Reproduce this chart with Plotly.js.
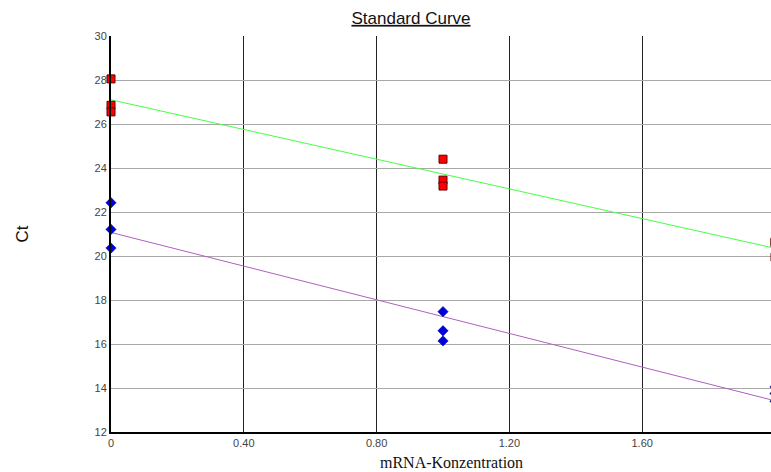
<!DOCTYPE html>
<html>
<head>
<meta charset="utf-8">
<script src="https://cdn.plot.ly/plotly-3.0.1.min.js"></script>
<style>
html,body{margin:0;padding:0;overflow:hidden;background:#fff;}
#chart{width:795px;height:472px;}
</style>
</head>
<body>
<div id="chart"></div>
<script>
// Data
const redX = [0, 0, 0, 1, 1, 1, 2, 2, 2];
const redY = [28.05, 26.85, 26.55, 24.4, 23.45, 23.18, 20.65, 20.6, 19.95];
const blueX = [0, 0, 0, 1, 1, 1, 2, 2, 2];
const blueY = [22.42, 21.21, 20.36, 17.47, 16.6, 16.14, 14.05, 13.75, 13.4];
const fitX = [0, 2];
const greenFitY = [27.1, 20.35];
const purpleFitY = [21.07, 13.42];
const xTickVals = [0, 0.4, 0.8, 1.2, 1.6];
const xTickText = ["0", "0.40", "0.80", "1.20", "1.60"];
const yTickVals = [12, 14, 16, 18, 20, 22, 24, 26, 28, 30];

const traces = [
  {x: fitX, y: greenFitY, mode: 'lines', line: {color: '#44ff44', width: 1}, hoverinfo: 'skip'},
  {x: fitX, y: purpleFitY, mode: 'lines', line: {color: '#b060c0', width: 1}, hoverinfo: 'skip'},
  {x: redX, y: redY, mode: 'markers', cliponaxis: false,
   marker: {symbol: 'square', size: 8, color: '#ff0000', line: {color: '#600000', width: 1}}},
  {x: blueX, y: blueY, mode: 'markers', cliponaxis: false,
   marker: {symbol: 'diamond', size: 8, color: '#0000dd', line: {color: '#000088', width: 0.5}}}
];

const layout = {
  width: 795, height: 472,
  margin: {l: 111, r: 20, t: 36, b: 40},
  paper_bgcolor: '#ffffff', plot_bgcolor: '#ffffff',
  showlegend: false,
  font: {family: 'Liberation Sans, Arial, sans-serif', size: 11, color: '#333'},
  title: {text: '<u>Standard Curve</u>', x: 411 / 795, xref: 'container', xanchor: 'center',
          y: 0.962, yref: 'container', yanchor: 'middle',
          font: {family: 'Liberation Sans, Arial, sans-serif', size: 17, color: '#111'}},
  xaxis: {
    range: [0, 2], tickvals: xTickVals, ticktext: xTickText,
    showgrid: true, gridcolor: '#222', gridwidth: 1,
    zeroline: false, showline: true, linecolor: '#000', linewidth: 2,
    ticks: '', tickfont: {size: 11, color: '#444'},
    automargin: false, fixedrange: true
  },
  yaxis: {
    range: [12, 30], tickvals: yTickVals,
    showgrid: true, gridcolor: '#a8a8a8', gridwidth: 1,
    zeroline: false, showline: true, linecolor: '#000', linewidth: 2,
    ticks: '', tickfont: {size: 11, color: '#444'},
    title: {text: 'Ct', standoff: 62, font: {family: 'Liberation Sans, Arial, sans-serif', size: 17, color: '#111'}},
    automargin: false, fixedrange: true
  },
  annotations: [
    {text: 'mRNA-Konzentration', xref: 'paper', yref: 'paper', x: (451 - 111) / 664, y: -(462 - 432) / 396,
     xanchor: 'center', yanchor: 'middle', showarrow: false,
     font: {family: 'Liberation Serif, Times New Roman, serif', size: 16, color: '#111'}}
  ]
};

Plotly.newPlot('chart', traces, layout, {displayModeBar: false, staticPlot: true});
</script>
</body>
</html>
